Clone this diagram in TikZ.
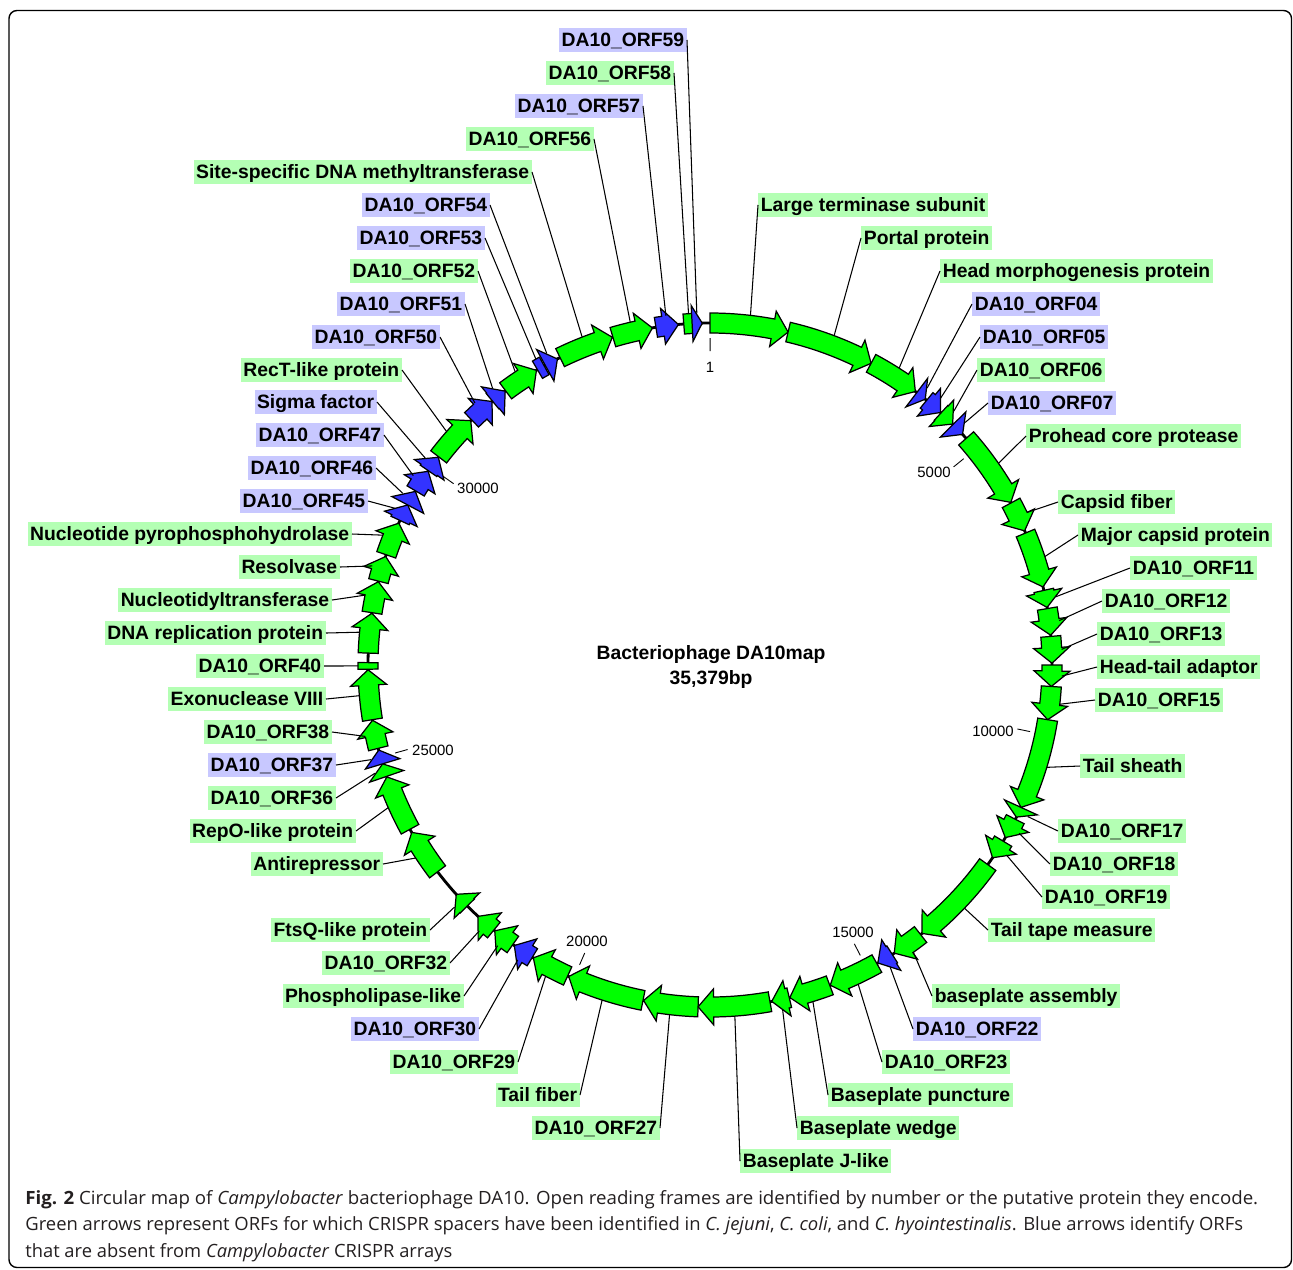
\documentclass[tikz,border=0pt]{standalone}
\usepackage{fontspec}
\usepackage{graphicx}
\setmainfont{Liberation Sans}
\newfontfamily\capfont{Open Sans}
\definecolor{orfgreen}{HTML}{00FF00}
\definecolor{orfblue}{HTML}{3333FF}
\definecolor{labgreen}{HTML}{B4FFB4}
\definecolor{labblue}{HTML}{C8C8FF}
\definecolor{capgray}{HTML}{231F20}

\begin{document}
\begin{tikzpicture}[x=0.02cm,y=0.02cm,
        orfG/.style={draw=black,line width=0.7pt,fill=orfgreen},
        orfB/.style={draw=black,line width=0.7pt,fill=orfblue},
        labG/.style={fill=labgreen,inner xsep=0.05cm,inner ysep=0pt,minimum height=0.466cm,
            text height=7.9pt,text depth=0pt,font=\fontsize{11}{13}\selectfont\bfseries},
        labB/.style={labG,fill=labblue},
        leader/.style={draw=black,line width=0.6pt},
        tick/.style={draw=black,line width=0.5pt},
        ticklab/.style={inner sep=0pt,font=\fontsize{8.5}{10}\selectfont},
        title/.style={inner sep=0pt,font=\fontsize{11}{13}\selectfont\bfseries},
        caption/.style={anchor=base west,inner sep=0pt,text=capgray,font=\capfont\fontsize{10.4}{12}\selectfont}]
        \useasboundingbox (0,0) rectangle (1293,-1269);
        \draw[line width=0.8pt,rounded corners=0.16cm] (9,-10.5) rectangle (1291.5,-1267.5);

        \begin{scope}[shift={(710,-665)}]
            \draw[line width=1.6pt] (0,0) circle (342);

            % ticks, positions in kbp
            \foreach \k in {0.001,5,10,15,20,25,30} {
                \pgfmathsetmacro{\angT}{90-\k*10.175528}
                \draw[tick] (\angT:314) -- (\angT:327);
            }

            % ORFs without a head
            \foreach \g/\a/\b/\c in {o40/269.3/270.4/orfG, o53/329.7/331.0/orfB, o58/355.6/357.4/orfG} {
                \pgfmathsetmacro{\angS}{90-\a}
                \pgfmathsetmacro{\angE}{90-\b}
                \pgfmathsetmacro{\angC}{90-(\a+\b)/2}
                \draw[\c] (\angS:352) arc[start angle=\angS,end angle=\angE,radius=352]
                    -- (\angE:332) arc[start angle=\angE,end angle=\angS,radius=332] -- cycle;
                \coordinate (g\g) at (\angC:352);
            }

            % ORF arrows, clockwise
            \foreach \g/\a/\b/\c in {LT/0/13.2/orfG, Por/13.2/28.1/orfG, HMo/28.1/36.9/orfG,
                    o04/37.2/39.0/orfB, o05/39.3/42.4/orfB, o06/42.5/45.2/orfG, o07/45.3/47.6/orfB,
                    Pro/48.5/61.6/orfG, CFi/61.7/66.9/orfG, MCP/67.3/76.8/orfG, o11/77.4/80.3/orfG,
                    o12/80.5/85.0/orfG, o13/85.2/89.7/orfG, HTA/90.0/93.6/orfG, o15/93.6/99.2/orfG,
                    TSh/99.2/114.6/orfG, o17/114.6/116.4/orfG, o18/116.8/120.3/orfG, o19/121.0/124.3/orfG,
                    TTM/125.7/141.7/orfG, BAs/142.0/147.4/orfG, o22/147.8/150.6/orfB, o23/150.8/159.4/orfG,
                    BPu/159.5/166.5/orfG, BWe/166.6/169.6/orfG, BJl/169.9/182.0/orfG, o27/182.0/191.2/orfG,
                    TFi/191.3/204.4/orfG, o29/204.6/211.1/orfG, o30/211.3/214.9/orfB, PLi/215.2/219.0/orfG,
                    o32/219.2/222.7/orfG, FtsQ/225.2/227.9/orfG, ARe/232.8/240.7/orfG, RepO/241.3/250.9/orfG,
                    o36/251.0/253.2/orfG, o37/253.2/255.6/orfB, o38/255.9/260.7/orfG, Exo/260.8/269.2/orfG,
                    DNA/272.0/278.7/orfG, NTr/278.8/284.1/orfG, Res/284.2/288.5/orfG, NPP/288.8/294.5/orfG,
                    o45/295.0/297.9/orfB, o46/297.9/300.5/orfB, o47/300.6/304.5/orfB, Sig/304.6/307.4/orfB,
                    RecT/307.5/315.6/orfG, o50/315.8/320.4/orfB, o51/320.5/323.2/orfB, o52/323.3/329.5/orfG,
                    o54/331.2/333.5/orfB, SsM/334.0/343.4/orfG, o56/343.5/350.3/orfG, o57/350.9/354.7/orfB,
                    o59/357.0/358.7/orfB} {
                \pgfmathsetmacro{\angS}{90-\a}
                \pgfmathsetmacro{\angM}{90-max(\a,\b-2.6)}
                \pgfmathsetmacro{\angE}{90-\b}
                \pgfmathsetmacro{\angC}{90-(\a+\b)/2}
                \draw[\c] (\angS:352) arc[start angle=\angS,end angle=\angM,radius=352]
                    -- (\angM:360) -- (\angE:342) -- (\angM:324)
                    -- (\angM:332) arc[start angle=\angM,end angle=\angS,radius=332] -- cycle;
                \coordinate (g\g) at (\angC:352);
            }
        \end{scope}

        % labels on the right
        \foreach \g/\t/\x/\y/\c in {LT/{Large terminase subunit}/758/205/labG,
                Por/{Portal protein}/861/238/labG, HMo/{Head morphogenesis protein}/940/271/labG,
                o04/{DA10\_ORF04}/972/304/labB, o05/{DA10\_ORF05}/980/337/labB,
                o06/{DA10\_ORF06}/977/370/labG, o07/{DA10\_ORF07}/988/403/labB,
                Pro/{Prohead core protease}/1026/436/labG, CFi/{Capsid fiber}/1058/502/labG,
                MCP/{Major capsid protein}/1078/535/labG, o11/{DA10\_ORF11}/1130/568/labG,
                o12/{DA10\_ORF12}/1102/601/labG, o13/{DA10\_ORF13}/1097/634/labG,
                HTA/{Head-tail adaptor}/1097/667/labG, o15/{DA10\_ORF15}/1095/700/labG,
                TSh/{Tail sheath}/1080/766/labG, o17/{DA10\_ORF17}/1058/831/labG,
                o18/{DA10\_ORF18}/1050/864/labG, o19/{DA10\_ORF19}/1042/897/labG,
                TTM/{Tail tape measure}/988/930/labG, BAs/{baseplate assembly}/932/996/labG,
                o22/{DA10\_ORF22}/913/1029/labB, o23/{DA10\_ORF23}/882/1062/labG,
                BPu/{Baseplate puncture}/828/1095/labG, BWe/{Baseplate wedge}/797/1128/labG,
                BJl/{Baseplate J-like}/740/1161/labG} {
            \node[\c,anchor=west] (l\g) at (\x,-\y) {\t};
            \draw[leader] (l\g.west) -- (g\g);
        }

        % labels on the left
        \foreach \g/\t/\x/\y/\c in {o27/{DA10\_ORF27}/660/1128/labG, TFi/{Tail fiber}/580/1095/labG,
                o29/{DA10\_ORF29}/518/1062/labG, o30/{DA10\_ORF30}/479/1029/labB,
                PLi/{Phospholipase-like}/464/996/labG, o32/{DA10\_ORF32}/450/963/labG,
                FtsQ/{FtsQ-like protein}/430/930/labG, ARe/{Antirepressor}/383/864/labG,
                RepO/{RepO-like protein}/356/831/labG, o36/{DA10\_ORF36}/336/798/labG,
                o37/{DA10\_ORF37}/336/765/labB, o38/{DA10\_ORF38}/332/732/labG,
                Exo/{Exonuclease VIII}/326/699/labG, o40/{DA10\_ORF40}/324/666/labG,
                DNA/{DNA replication protein}/326/633/labG, NTr/{Nucleotidyltransferase}/332/600/labG,
                Res/{Resolvase}/340/567/labG, NPP/{Nucleotide pyrophosphohydrolase}/352/534/labG,
                o45/{DA10\_ORF45}/368/501/labB, o46/{DA10\_ORF46}/376/468/labB,
                o47/{DA10\_ORF47}/384/435/labB, Sig/{Sigma factor}/377/402/labB,
                RecT/{RecT-like protein}/402/370/labG, o50/{DA10\_ORF50}/440/337/labB,
                o51/{DA10\_ORF51}/465/304/labB, o52/{DA10\_ORF52}/478/271/labG,
                o53/{DA10\_ORF53}/485/238/labB, o54/{DA10\_ORF54}/490/205/labB,
                SsM/{Site-specific DNA methyltransferase}/532/172/labG, o56/{DA10\_ORF56}/594/139/labG,
                o57/{DA10\_ORF57}/643/106/labB, o58/{DA10\_ORF58}/674/73/labG,
                o59/{DA10\_ORF59}/687/40/labB} {
            \node[\c,anchor=east] (l\g) at (\x,-\y) {\t};
            \draw[leader] (l\g.east) -- (g\g);
        }

        % scale numbers
        \foreach \n/\x/\y in {1/710/367, 5000/934/472, 10000/993/731, 15000/853/932,
                20000/587/941, 25000/433/750, 30000/478/488} {
            \node[ticklab] (t\n) at (\x,-\y) {\n};
        }

        \node[title] (mapname) at (711,-655) {Bacteriophage DA10map};
        \node[title] (maplen) at (711,-679) {35,379bp};

        \node[caption] (cap1) at (25,-1204) {\resizebox{24.66cm}{\height}{\textbf{Fig. 2} Circular map of \textit{Campylobacter} bacteriophage DA10. Open reading frames are identified by number or the putative protein they encode.}};
        \node[caption] (cap2) at (25,-1230) {\resizebox{24.36cm}{\height}{Green arrows represent ORFs for which CRISPR spacers have been identified in \textit{C. jejuni}, \textit{C. coli}, and \textit{C. hyointestinalis}. Blue arrows identify ORFs}};
        \node[caption] (cap3) at (25,-1257) {\resizebox{8.54cm}{\height}{that are absent from \textit{Campylobacter} CRISPR arrays}};
    \end{tikzpicture}
\end{document}
